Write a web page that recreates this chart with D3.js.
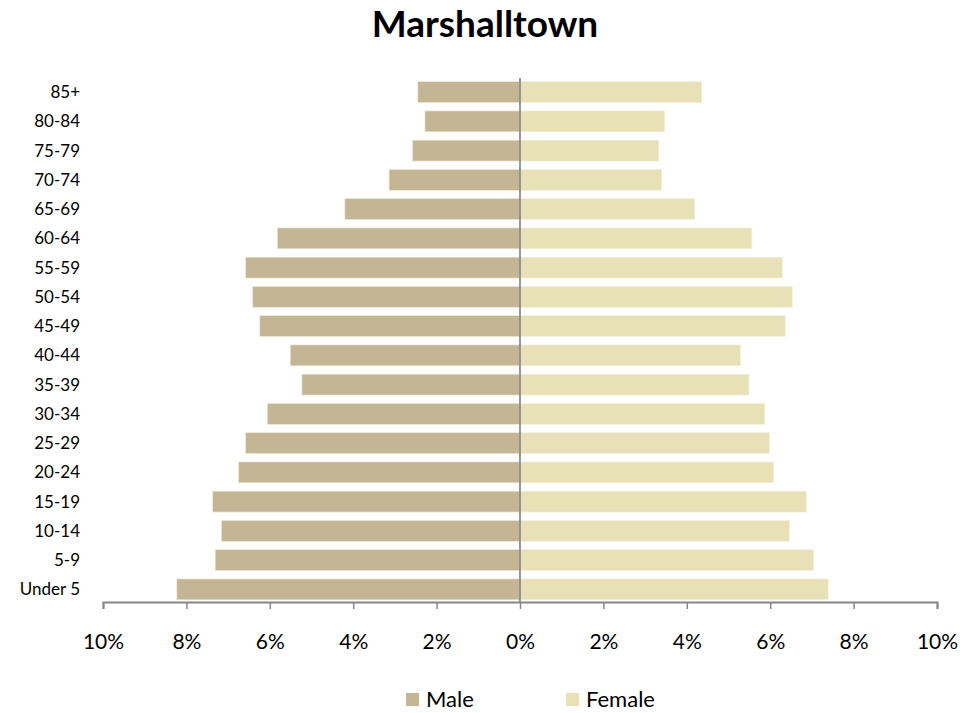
<!DOCTYPE html>
<html>
<head>
<meta charset="utf-8">
<script src="https://cdn.jsdelivr.net/npm/d3@7"></script>
<style>
  body { margin: 0; background: #fff; }
  text { font-family: Lato, "Open Sans", sans-serif; fill: #000; }
</style>
</head>
<body>
<svg id="pyramid" width="979" height="713"></svg>
<script>
// age groups, top of chart first
var ageGroups = ["85+", "80-84", "75-79", "70-74", "65-69", "60-64", "55-59", "50-54",
  "45-49", "40-44", "35-39", "30-34", "25-29", "20-24", "15-19", "10-14", "5-9", "Under 5"];

// percent of population
var maleValues = [2.45, 2.28, 2.58, 3.14, 4.20, 5.82, 6.58, 6.41,
  6.24, 5.51, 5.23, 6.06, 6.58, 6.75, 7.37, 7.16, 7.31, 8.23];
var femaleValues = [4.36, 3.47, 3.33, 3.40, 4.19, 5.56, 6.29, 6.53,
  6.36, 5.29, 5.49, 5.87, 5.98, 6.08, 6.87, 6.46, 7.04, 7.39];

var tickValues = [-10, -8, -6, -4, -2, 0, 2, 4, 6, 8, 10];
var seriesNames = ["Male", "Female"];
var colors = {Male: "#c4b594", Female: "#e8e1b7"};
var axisColor = "#868686";

var svg = d3.select("#pyramid");

var x = d3.scaleLinear().domain([-10, 10]).range([103, 937]);
var y = d3.scaleBand().domain(ageGroups).range([77.5, 604])
  .paddingInner(0.285).paddingOuter(0.1425);

var rows = ageGroups.map(function(a, i) {
  return {age: a, male: maleValues[i], female: femaleValues[i]};
});

// title
svg.append("text")
  .attr("x", 485).attr("y", 37)
  .attr("text-anchor", "middle")
  .style("font-size", "37px").style("font-weight", "bold")
  .text("Marshalltown");

// male bars go left
svg.append("g").selectAll("rect")
  .data(rows)
  .enter().append("rect")
    .attr("x", function(d) { return x(-d.male); })
    .attr("y", function(d) { return y(d.age); })
    .attr("width", function(d) { return x(0) - x(-d.male); })
    .attr("height", y.bandwidth())
    .attr("fill", colors.Male)
    .attr("stroke", "#efe9da").attr("stroke-width", 0.7);

// female bars go right
svg.append("g").selectAll("rect")
  .data(rows)
  .enter().append("rect")
    .attr("x", x(0))
    .attr("y", function(d) { return y(d.age); })
    .attr("width", function(d) { return x(d.female) - x(0); })
    .attr("height", y.bandwidth())
    .attr("fill", colors.Female)
    .attr("stroke", "#f5f1de").attr("stroke-width", 0.7);

// category labels
svg.append("g").selectAll("text")
  .data(ageGroups)
  .enter().append("text")
    .attr("x", 80)
    .attr("y", function(d) { return y(d) + y.bandwidth() / 2; })
    .attr("dy", "0.36em")
    .attr("text-anchor", "end")
    .style("font-size", "17px")
    .text(function(d) { return d; });

// zero line
svg.append("line")
  .attr("x1", x(0)).attr("x2", x(0))
  .attr("y1", 78).attr("y2", 602)
  .attr("stroke", axisColor).attr("stroke-width", 1.7);

// x axis
var ax = d3.axisBottom(x)
  .tickValues(tickValues)
  .tickSize(7)
  .tickPadding(25)
  .tickFormat(function(d) { return Math.abs(d) + "%"; });

var gx = svg.append("g")
  .attr("transform", "translate(0,602)")
  .call(ax);
gx.select(".domain").attr("stroke", axisColor).attr("stroke-width", 2);
gx.selectAll(".tick line").attr("stroke", axisColor).attr("stroke-width", 1.5);
gx.selectAll(".tick text")
  .style("font-size", "21px")
  .style("font-family", "Lato, 'Open Sans', sans-serif")
  .attr("fill", "#000");

// legend
var legendX = [406, 566];
var legend = svg.append("g").selectAll("g")
  .data(seriesNames)
  .enter().append("g")
    .attr("transform", function(d, i) { return "translate(" + legendX[i] + ",693)"; });
legend.append("rect")
  .attr("width", 13).attr("height", 13)
  .attr("fill", function(d) { return colors[d]; });
legend.append("text")
  .attr("x", 20).attr("y", 14)
  .style("font-size", "22px")
  .text(function(d) { return d; });
</script>
</body>
</html>
